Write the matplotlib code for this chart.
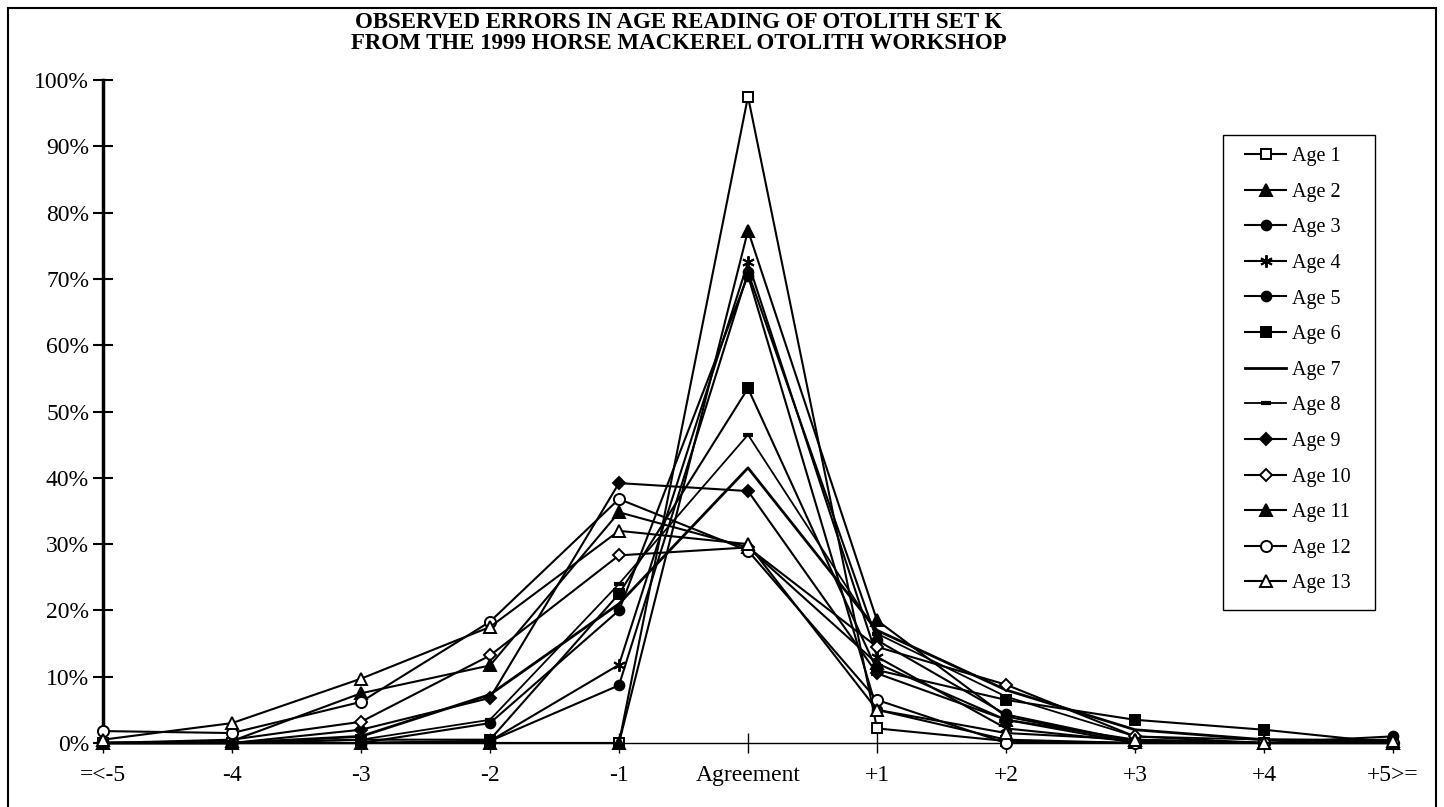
import numpy as np
import matplotlib
matplotlib.use('Agg')
import matplotlib.pyplot as plt
from matplotlib.ticker import FuncFormatter

# categories on the x axis (error in years)
cats = ['=<-5', '-4', '-3', '-2', '-1', 'Agreement', '+1', '+2', '+3', '+4', '+5>=']

# percent of readings per error class, one list per modal age
age1  = [0, 0, 0, 0, 0, 97.5, 2.2, 0.3, 0, 0, 0]
age2  = [0, 0, 0, 0, 0, 77.3, 18.5, 4.0, 0.2, 0, 0]
age3  = [0, 0, 0, 0.3, 8.7, 71.0, 15.5, 4.3, 0.2, 0, 0]
age4  = [0, 0, 0, 0.3, 11.8, 72.5, 13.0, 2.2, 0.2, 0, 0]
age5  = [0, 0, 0, 3.0, 20.0, 70.5, 5.0, 0.5, 0, 0, 1.0]
age6  = [0, 0, 0.5, 0.5, 22.5, 53.5, 11.0, 6.5, 3.5, 2.0, 0]
age7  = [0, 0, 1.0, 7.3, 21.0, 41.5, 17.0, 8.0, 2.0, 0.5, 0.3]
age8  = [0, 0, 0.5, 3.5, 24.0, 46.5, 16.5, 7.0, 1.0, 0.5, 0.5]
age9  = [0, 0, 2.0, 6.8, 39.2, 38.0, 10.5, 3.5, 0, 0, 0]
age10 = [0, 0.5, 3.2, 13.2, 28.3, 29.5, 14.5, 8.8, 1.0, 0, 0]
age11 = [0, 0.3, 7.5, 11.7, 34.8, 29.5, 12.0, 3.5, 0.5, 0, 0]
age12 = [1.8, 1.5, 6.2, 18.3, 36.8, 29.0, 6.5, 0, 0, 0, 0]
age13 = [0.5, 3.0, 9.7, 17.5, 32.0, 30.0, 5.0, 1.5, 0.5, 0, 0.3]

labels = ['Age %d' % i for i in range(1, 14)]
series = [age1, age2, age3, age4, age5, age6, age7, age8, age9, age10, age11, age12, age13]

# marker, filled?, size, line width
styles = [('s', False, 7, 1.5), ('^', True, 8, 1.5), ('o', True, 7, 1.5), ((6, 2, 0), True, 9, 1.5),
          ('o', True, 7, 1.5), ('s', True, 7, 1.5), ('None', True, 6, 2.0), ('_', True, 7, 1.3),
          ('D', True, 6, 1.5), ('D', False, 6, 1.5), ('^', True, 8, 1.5), ('o', False, 8, 1.5),
          ('^', False, 8, 1.5)]

plt.rcParams['font.family'] = ['Liberation Serif', 'DejaVu Serif']

W, H = 1444., 807.
fig = plt.figure(figsize=(W / 100, H / 100), dpi=100)
ax = fig.add_axes([103 / W, 1 - 743 / H, (1393 - 103) / W, (743 - 80) / H])

x = np.arange(len(cats))
for vals, lab, (mk, filled, ms, lw) in zip(series, labels, styles):
    ax.plot(x, vals, color='black', lw=lw, marker=mk, ms=ms,
            mfc='black' if filled else 'white', mec='black',
            mew=3 if mk == '_' else 1.4,
            label=lab, clip_on=False, zorder=3)

ax.set_xlim(0, len(cats) - 1)
ax.set_ylim(0, 100)
ax.set_yticks(np.arange(0, 101, 10))
ax.yaxis.set_major_formatter(FuncFormatter(lambda v, p: '%d%%' % v))
ax.set_xticks(x)
ax.set_xticklabels(cats)
ax.tick_params(axis='y', direction='inout', length=14, width=1.5, labelsize=17, pad=3)
ax.tick_params(axis='x', direction='inout', length=14, width=1, labelsize=17, pad=9)
ax.spines['top'].set_visible(False)
ax.spines['right'].set_visible(False)
ax.spines['left'].set_linewidth(2.5)
ax.spines['bottom'].set_linewidth(1)

fig.text(679 / W, 1 - 33 / H, 'OBSERVED ERRORS IN AGE READING OF OTOLITH SET K\n'
         'FROM THE 1999 HORSE MACKEREL OTOLITH WORKSHOP',
         ha='center', va='center', fontsize=16.5, fontweight='bold', linespacing=1.0)

# legend entries without frame, box drawn separately
leg = fig.legend(loc='upper left', bbox_to_anchor=(1245 / W, 1 - 147 / H), fontsize=14.5,
                 frameon=False, handlelength=2.05, handletextpad=0.3,
                 labelspacing=0.82, borderpad=0, borderaxespad=0)
fig.add_artist(plt.Rectangle((1223 / W, 1 - 610 / H), 152 / W, 475 / H,
                             transform=fig.transFigure, fill=False, ec='black', lw=1))

# chart area border
fig.add_artist(plt.Rectangle((8 / W, -0.01), 1428 / W, 1.01 - 8 / H, transform=fig.transFigure,
                             fill=False, ec='black', lw=1.5))

fig.savefig('out.png', dpi=100)
